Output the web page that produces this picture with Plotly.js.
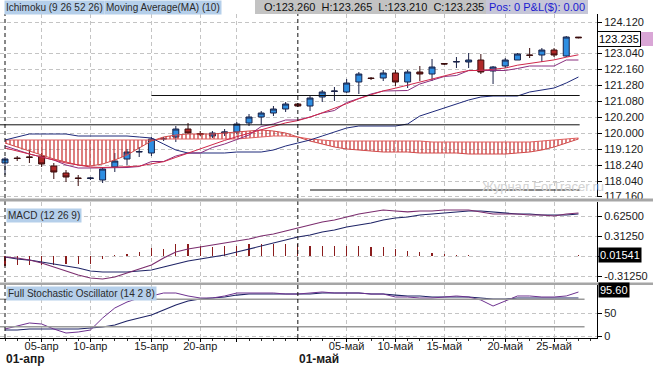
<!DOCTYPE html>
<html><head><meta charset="utf-8">
<script src="https://cdn.plot.ly/plotly-3.0.1.min.js"></script>
<style>html,body{margin:0;padding:0;background:#fff}#chart{width:653px;height:366px}</style>
</head><body><div id="chart"></div>
<script>
// ---- data ----
const idx = [0,1,2,3,4,5,6,7,8,9,10,11,12,13,14,15,16,17,18,19,20,21,22,23,24,25,26,27,28,29,30,31,32,33,34,35,36,37,38,39,40,41,42,43,44,45,46,47];
const open = [118.224,118.424,118.464,118.504,118.104,117.824,117.624,117.604,117.544,118.064,118.384,118.664,118.624,119.184,119.264,119.584,119.404,119.304,119.424,119.464,119.824,120.064,120.224,120.384,120.584,120.504,120.864,121.084,121.064,121.464,121.624,121.624,121.824,121.464,121.864,121.784,122.204,122.264,122.264,122.344,121.904,122.104,122.344,122.544,122.544,122.744,122.504,123.260];
const high = [118.464,118.504,118.744,118.624,118.224,117.944,117.744,117.664,118.064,118.624,118.784,118.864,119.264,119.264,119.704,119.824,119.504,119.504,119.584,119.864,120.184,120.304,120.504,120.664,120.624,120.904,121.144,121.264,121.584,121.864,121.664,121.944,121.944,121.944,122.104,122.384,122.224,122.464,122.624,122.584,122.104,122.424,122.624,122.824,122.824,122.824,123.304,123.265];
const low = [117.744,118.304,118.224,118.064,117.584,117.464,117.304,117.544,117.424,117.864,118.144,118.464,118.504,119.104,119.064,119.384,119.304,119.224,119.304,119.384,119.704,119.744,120.104,120.264,120.464,120.304,120.664,120.704,121.024,120.984,121.544,121.504,121.304,121.224,121.504,121.504,122.144,122.024,122.024,121.784,121.384,122.024,122.344,122.424,122.264,122.464,122.464,123.210];
const close = [118.384,118.404,118.452,118.184,117.864,117.664,117.608,117.624,117.984,118.304,118.664,118.680,119.184,119.200,119.584,119.424,119.364,119.424,119.464,119.784,120.064,120.224,120.384,120.584,120.504,120.824,121.064,121.104,121.424,121.784,121.604,121.824,121.464,121.864,121.784,122.064,122.184,122.280,122.344,121.864,122.064,122.344,122.584,122.532,122.744,122.544,123.264,123.235];
const ma10 = [118.824,118.704,118.584,118.464,118.344,118.224,118.144,118.064,118.044,118.048,118.076,118.104,118.176,118.276,118.448,118.624,118.800,118.980,119.128,119.276,119.416,119.572,119.692,119.828,119.920,120.060,120.232,120.400,120.596,120.796,120.948,121.108,121.216,121.344,121.472,121.596,121.708,121.828,121.920,121.928,121.972,122.024,122.136,122.204,122.300,122.348,122.456,122.552];
const tenkan = [118.904,118.744,118.584,118.464,118.344,118.144,118.024,118.024,118.024,118.024,118.044,118.084,118.284,118.284,118.504,118.624,118.624,118.844,118.984,119.164,119.344,119.684,119.784,119.944,119.944,120.064,120.224,120.324,120.644,120.804,120.984,121.104,121.124,121.124,121.384,121.544,121.684,121.724,121.924,121.924,121.924,121.924,122.004,122.104,122.104,122.104,122.344,122.344];
const kijun = [119.144,119.264,119.384,119.384,119.384,119.384,119.304,119.304,119.304,119.304,119.304,119.264,119.224,118.984,118.744,118.624,118.624,118.624,118.624,118.664,118.664,118.664,118.744,118.904,119.024,119.144,119.304,119.464,119.624,119.704,119.704,119.704,119.704,119.784,120.104,120.264,120.424,120.584,120.744,120.864,120.904,120.904,120.904,121.064,121.144,121.224,121.424,121.664];
const senkouA = [119.144,119.144,119.144,119.144,119.144,119.144,119.144,119.144,119.144,119.144,119.144,119.144,119.144,119.184,119.184,119.184,119.184,119.184,119.184,119.184,119.224,119.264,119.304,119.304,119.264,119.184,119.144,119.104,119.104,119.104,119.104,119.104,119.104,119.104,119.104,119.064,119.064,119.064,119.064,119.064,119.064,119.064,119.064,119.064,119.104,119.144,119.184,119.224];
const senkouB = [119.024,118.864,118.704,118.544,118.384,118.264,118.144,118.104,118.184,118.344,118.544,118.824,119.104,119.264,119.344,119.384,119.384,119.384,119.424,119.464,119.504,119.544,119.504,119.424,119.264,119.104,118.984,118.864,118.784,118.744,118.704,118.664,118.664,118.664,118.624,118.624,118.624,118.624,118.584,118.584,118.584,118.584,118.624,118.664,118.744,118.864,119.024,119.184];
const macd = [-0.016,-0.031,-0.063,-0.109,-0.172,-0.234,-0.297,-0.344,-0.359,-0.328,-0.266,-0.203,-0.141,-0.031,0.063,0.109,0.141,0.172,0.203,0.234,0.266,0.313,0.344,0.391,0.438,0.484,0.531,0.563,0.609,0.656,0.688,0.719,0.703,0.688,0.703,0.703,0.719,0.719,0.719,0.688,0.656,0.656,0.656,0.641,0.641,0.625,0.656,0.672];
const signal = [-0.016,-0.047,-0.063,-0.094,-0.125,-0.156,-0.188,-0.234,-0.25,-0.25,-0.25,-0.234,-0.219,-0.172,-0.125,-0.078,-0.047,-0.016,0.016,0.063,0.109,0.156,0.203,0.25,0.297,0.328,0.375,0.406,0.453,0.484,0.516,0.563,0.594,0.609,0.641,0.656,0.672,0.688,0.703,0.703,0.688,0.672,0.656,0.656,0.641,0.641,0.641,0.656];
const hist = [-0.15,-0.14,-0.14,-0.14,-0.14,-0.13,-0.13,-0.12,-0.05,0.01,0.03,0.06,0.12,0.11,0.18,0.18,0.15,0.14,0.15,0.16,0.18,0.18,0.18,0.18,0.18,0.16,0.16,0.15,0.15,0.15,0.14,0.14,0.11,0.08,0.06,0.05,0.03,0.02,0.02,0.006,0.006,0.006,0.006,0.006,0.006,0.006,0.006,0.0154];
const stochK = [15.2,21.7,28.3,26.1,15.2,6.5,8.7,13.0,39.1,60.9,73.9,82.6,87.0,93.5,93.5,87.0,82.6,82.6,87.0,93.5,93.5,93.5,93.5,91.3,91.3,93.5,95.7,93.5,93.5,93.5,91.3,91.3,84.8,84.8,82.6,82.6,84.8,87.0,84.8,78.3,65.2,76.1,87.0,87.0,84.8,84.8,87.0,95.6];
const stochD = [13.0,13.0,15.2,15.2,15.2,15.2,15.2,17.4,19.6,23.9,32.6,39.1,45.7,56.5,67.4,76.1,80.4,82.6,84.8,89.1,91.3,91.3,91.3,91.3,91.3,91.3,93.5,93.5,93.5,93.5,91.3,91.3,89.1,87.0,87.0,84.8,84.8,84.8,84.8,82.6,80.4,80.4,82.6,82.6,82.6,82.6,82.6,82.6];

// tick labels
const xTickVals = [3,7,12,16,19,28,32,36,41,45];
const xTickText = ['05-апр','10-апр','15-апр','20-апр','','05-май','10-май','15-май','20-май','25-май'];
const monthVals = [0,24];
const monthText = ['01-апр','01-май'];
const priceTickVals = [123.864,122.624,121.984,121.344,120.704,120.064,119.424,118.784,118.144,117.504,116.904];
const priceTickText = ['124.120','123.040','122.160','121.280','121.080','120.200','120.000','119.120','118.240','118.040','117.160'];
const macdTickVals = [0.625,0.3125,0,-0.3125];
const macdTickText = ['0.62500','0.31250','','-0.31250'];
const stochTickVals = [50,0];
const stochTickText = ['50','0'];
const levelPrice = [120.924,119.752,117.144];
const levelFrom = [12,-0.41,25];
const levelTo = [47.1,47.1,47.1];
const stochLevels = [80,20];
const lastPrice = '123.235';
const lastMacd = '0.01541';
const lastStoch = '95.60';

// ---- layout helpers (pixel -> paper) ----
const PW = 597, PT = 14, PB = 338, PH = PB - PT;
const px = x => x / PW;
const py = y => (PB - y) / PH;
const FF = 'Liberation Sans, Arial, Helvetica, sans-serif';
const tf = {family: FF, size: 11, color: '#1a1a1a'};
const gridCol = '#c4c4c4', gridDash = '4px,3px';

const traces = [
  {x: idx, y: senkouA, type: 'scatter', mode: 'lines', line: {color: '#e06060', width: 1}, xaxis: 'x', yaxis: 'y', hoverinfo: 'skip'},
  {x: idx, y: senkouB, type: 'scatter', mode: 'lines', line: {color: '#d04848', width: 1}, fill: 'tonexty',
   fillcolor: 'rgba(255,255,255,0)',
   fillpattern: {shape: '|', fgcolor: '#c62828', bgcolor: 'rgba(255,255,255,0)', size: 4, solidity: 0.3},
   xaxis: 'x', yaxis: 'y', hoverinfo: 'skip'},
  {x: idx, y: kijun, type: 'scatter', mode: 'lines', line: {color: '#1f2a7a', width: 1}, xaxis: 'x', yaxis: 'y'},
  {x: idx, y: tenkan, type: 'scatter', mode: 'lines', line: {color: '#8a2f7e', width: 1}, xaxis: 'x', yaxis: 'y'},
  {x: idx, y: ma10, type: 'scatter', mode: 'lines', line: {color: '#d0284a', width: 1}, xaxis: 'x', yaxis: 'y'},
  {x: idx, open: open, high: high, low: low, close: close, type: 'candlestick', xaxis: 'x', yaxis: 'y',
   whiskerwidth: 0,
   increasing: {line: {color: '#1a2248', width: 1}, fillcolor: '#2e8ee2'},
   decreasing: {line: {color: '#3a0c0c', width: 1}, fillcolor: '#b02828'}},
  {x: idx, y: hist, type: 'bar', width: 0.1, marker: {color: '#8b1c1c', line: {width: 0}}, xaxis: 'x', yaxis: 'y2'},
  {x: idx, y: signal, type: 'scatter', mode: 'lines', line: {color: '#1f2466', width: 1.2}, xaxis: 'x', yaxis: 'y2'},
  {x: idx, y: macd, type: 'scatter', mode: 'lines', line: {color: '#7b2d6e', width: 1.2}, xaxis: 'x', yaxis: 'y2'},
  {x: idx, y: stochD, type: 'scatter', mode: 'lines', line: {color: '#1f2466', width: 1.2}, xaxis: 'x', yaxis: 'y3'},
  {x: idx, y: stochK, type: 'scatter', mode: 'lines', line: {color: '#6e3290', width: 1}, xaxis: 'x', yaxis: 'y3'}
];

const yCommon = {side: 'right', anchor: 'x', ticks: 'outside', ticklen: 4, tickcolor: '#000', showline: true,
  linecolor: '#000', linewidth: 1, showgrid: true, gridcolor: gridCol, griddash: gridDash, zeroline: false,
  tickfont: tf, tickmode: 'array', fixedrange: true};

const shapes = [];
// header bar
shapes.push({type: 'rect', xref: 'paper', yref: 'paper', x0: px(255), x1: px(588), y0: py(14), y1: py(0), fillcolor: '#c3c3c3', line: {width: 0}, layer: 'below'});
shapes.push({type: 'rect', xref: 'paper', yref: 'paper', x0: px(486), x1: px(588), y0: py(14), y1: py(0), fillcolor: '#c6c6d8', line: {width: 0}, layer: 'below'});
// horizontal price levels
levelPrice.forEach((p, i) => shapes.push({type: 'line', xref: 'x', yref: 'y', x0: levelFrom[i], x1: levelTo[i], y0: p, y1: p, line: {color: '#111', width: 1}}));
// stochastic 80/20 levels
stochLevels.forEach(v => shapes.push({type: 'line', xref: 'x', yref: 'y3', x0: -0.41, x1: 47.5, y0: v, y1: v, line: {color: '#9a9a9a', width: 1.5}}));
// month separators
monthVals.forEach(v => shapes.push({type: 'line', xref: 'x', yref: 'paper', x0: v, x1: v, y0: 0, y1: 1, line: {color: '#111', width: 1, dash: '4px,3px'}}));
// panel separators
[[198.5, 201.5], [282.5, 285]].forEach(s => shapes.push({type: 'rect', xref: 'paper', yref: 'paper', x0: 0, x1: px(653), y0: py(s[1]), y1: py(s[0]), fillcolor: '#a6a6a6', line: {width: 0}}));
// pink marker next to price box
shapes.push({type: 'rect', xref: 'paper', yref: 'paper', x0: px(637), x1: px(653), y0: py(46), y1: py(32), fillcolor: '#d9a6d6', line: {width: 0}});

const A = (text, x, y, o) => Object.assign({text: text, xref: 'paper', yref: 'paper', x: px(x), y: py(y), showarrow: false,
  xanchor: 'left', yanchor: 'middle', font: {family: FF, size: 10, color: '#2a2a2a'}}, o || {});
const lblBg = '#b5cfea';
const annotations = [
  A('Ichimoku (9 26 52 26)', 4, 8, {bgcolor: lblBg, borderpad: 1}),
  A('Moving Average(MA) (10)', 104, 8, {bgcolor: lblBg, borderpad: 1}),
  A('O:123.260\u00A0\u00A0H:123.265\u00A0\u00A0L:123.210\u00A0\u00A0C:123.235', 262, 7, {font: {family: FF, size: 11, color: '#111'}}),
  A('Pos: 0 P&amp;L($): 0.00', 487, 7, {font: {family: FF, size: 11, color: '#1a1ad0'}}),
  A('MACD (12 26 9)', 6, 215, {bgcolor: lblBg, borderpad: 1}),
  A('Full Stochastic Oscillator (14 2 8)', 6, 293, {bgcolor: lblBg, borderpad: 1}),
  A(lastPrice, 597, 39, {bgcolor: '#fff', bordercolor: '#000', borderwidth: 1, borderpad: 1, font: {family: FF, size: 11, color: '#000'}}),
  A(lastMacd, 598, 255, {bgcolor: '#000', borderpad: 1, font: {family: FF, size: 11, color: '#fff'}}),
  A(lastStoch, 598, 290, {bgcolor: '#000', borderpad: 1, font: {family: FF, size: 11, color: '#fff'}}),
  A('Журнал ForTracer.ru', 606, 187, {xanchor: 'right', font: {family: FF, size: 13, color: '#d2d2d2'}}),
];
monthVals.forEach((v, i) => annotations.push({text: '<b>' + monthText[i] + '</b>', xref: 'x', yref: 'paper', x: v, y: py(358.5),
  showarrow: false, xanchor: 'left', yanchor: 'middle', xshift: -1, font: {family: FF, size: 12, color: '#1a1a1a'}}));

const layout = {
  width: 653, height: 366, margin: {l: 0, r: 56, t: PT, b: 366 - PB, pad: 0},
  paper_bgcolor: '#fff', plot_bgcolor: '#fff', showlegend: false, hovermode: false,
  font: {family: FF, size: 11, color: '#1a1a1a'},
  bargap: 0,
  xaxis: {range: [-0.41, 48.52], anchor: 'y3', tickmode: 'array', tickvals: xTickVals, ticktext: xTickText,
    ticks: 'outside', ticklen: 3, tickcolor: '#000', showline: true, linecolor: '#000', linewidth: 1,
    ticklabelstandoff: -5,
    showgrid: true, gridcolor: gridCol, griddash: gridDash, zeroline: false, rangeslider: {visible: false},
    tickfont: tf, fixedrange: true,
    minor: {tickmode: 'linear', tick0: 0, dtick: 1, ticks: 'outside', ticklen: 2, tickcolor: '#333', showgrid: false}},
  yaxis: Object.assign({}, yCommon, {domain: [py(197), 1], range: [116.864, 124.184], tickvals: priceTickVals, ticktext: priceTickText}),
  yaxis2: Object.assign({}, yCommon, {domain: [py(282), py(202)], range: [-0.40625, 0.84375], tickvals: macdTickVals, ticktext: macdTickText}),
  yaxis3: Object.assign({}, yCommon, {domain: [0, py(285)], range: [-4.35, 110.9], tickvals: stochTickVals, ticktext: stochTickText}),
  shapes: shapes, annotations: annotations
};
Plotly.newPlot('chart', traces, layout, {displayModeBar: false, staticPlot: true});
</script></body></html>
